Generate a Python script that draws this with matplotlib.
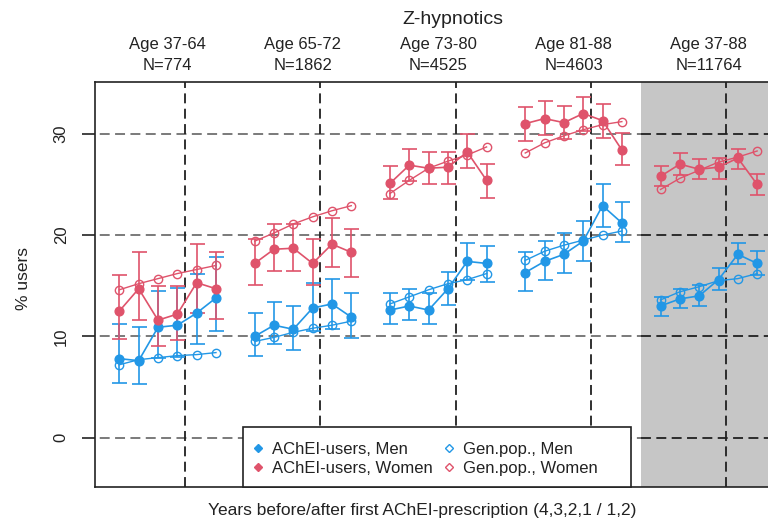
import matplotlib
matplotlib.use("Agg")
import matplotlib.pyplot as plt
from matplotlib.lines import Line2D
from matplotlib.patches import Rectangle
import numpy as np

plt.rcParams['font.family'] = ['Liberation Sans', 'DejaVu Sans']

# ---------------- data ----------------
title = "Z-hypnotics"
panel_ages = ["Age 37-64", "Age 65-72", "Age 73-80", "Age 81-88", "Age 37-88"]
panel_ns = ["N=774", "N=1862", "N=4525", "N=4603", "N=11764"]
xlabel = "Years before/after first AChEI-prescription (4,3,2,1 / 1,2)"
ylabel = "% users"
yticks = [0, 10, 20, 30]

men_users = [[7.8, 7.6, 10.9, 11.1, 12.3, 13.8],
             [10.0, 11.1, 10.7, 12.8, 13.2, 11.9],
             [12.6, 13.0, 12.6, 14.7, 17.4, 17.2],
             [16.3, 17.4, 18.1, 19.4, 22.9, 21.2],
             [13.0, 13.7, 14.0, 15.6, 18.1, 17.2]]
men_lo = [[5.4, 5.3, 7.9, 8.0, 9.2, 10.5],
          [8.1, 9.2, 8.7, 10.5, 10.7, 9.8],
          [11.2, 11.6, 11.2, 13.1, 15.6, 15.4],
          [14.5, 15.6, 16.3, 17.4, 20.8, 19.3],
          [12.0, 12.8, 13.0, 14.6, 17.1, 16.1]]
men_hi = [[11.2, 10.9, 14.5, 14.8, 16.2, 17.8],
          [12.3, 13.4, 13.0, 15.3, 15.7, 14.3],
          [14.3, 14.7, 14.3, 16.4, 19.2, 18.9],
          [18.3, 19.4, 20.2, 21.4, 25.0, 23.3],
          [13.9, 14.7, 15.1, 16.7, 19.2, 18.4]]
men_pop = [[7.2, 7.7, 7.9, 8.1, 8.2, 8.4],
           [9.5, 9.9, 10.4, 10.8, 11.1, 11.5],
           [13.2, 13.9, 14.6, 15.2, 15.6, 16.2],
           [17.5, 18.4, 19.0, 19.5, 20.0, 20.4],
           [13.6, 14.4, 14.9, 15.5, 15.7, 16.2]]
women_users = [[12.5, 14.7, 11.6, 12.2, 15.3, 14.7],
               [17.2, 18.6, 18.7, 17.2, 19.1, 18.3],
               [25.1, 26.9, 26.6, 26.7, 28.2, 25.4],
               [31.0, 31.5, 31.1, 32.0, 31.3, 28.4],
               [25.8, 27.0, 26.5, 26.7, 27.6, 25.0]]
women_lo = [[9.7, 11.6, 9.0, 9.6, 12.3, 11.7],
            [15.1, 16.5, 16.5, 15.1, 16.8, 15.9],
            [23.6, 25.3, 25.0, 25.0, 26.6, 23.7],
            [29.3, 29.9, 29.5, 30.3, 29.6, 26.9],
            [24.8, 25.9, 25.5, 25.5, 26.5, 24.0]]
women_hi = [[16.1, 18.3, 15.0, 15.0, 19.1, 18.3],
            [19.6, 21.1, 21.1, 19.6, 21.7, 20.6],
            [26.8, 28.5, 28.2, 28.2, 30.0, 27.0],
            [32.6, 33.2, 32.7, 33.6, 32.9, 30.1],
            [26.8, 28.1, 27.5, 27.6, 28.5, 26.0]]
women_pop = [[14.6, 15.2, 15.7, 16.2, 16.6, 17.0],
             [19.4, 20.2, 21.1, 21.8, 22.4, 22.9],
             [24.1, 25.4, 26.6, 27.3, 27.9, 28.7],
             [28.1, 29.1, 29.8, 30.4, 30.9, 31.2],
             [24.5, 25.6, 26.4, 27.2, 27.7, 28.3]]

legend_labels = ["AChEI-users, Men", "AChEI-users, Women", "Gen.pop., Men", "Gen.pop., Women"]

BLUE = "#2297E6"
RED = "#DF536B"
INK = "#222222"

# ---------------- figure ----------------
W, H = 768, 525
fig = plt.figure(figsize=(W / 100, H / 100), dpi=100)
ax_l, ax_r, ax_t, ax_b = 95, 779, 82, 487
ax = fig.add_axes([ax_l / W, (H - ax_b) / H, (ax_r - ax_l) / W, (ax_b - ax_t) / H])

def ax_x(px):
    return (px - ax_l) / (ax_r - ax_l)

def ax_y(py):
    return (ax_b - py) / (ax_b - ax_t)

xs0 = np.arange(6)
PSTEP = 7
ax.set_xlim(-1.26, 34.13)
ax.set_ylim(-4.87, 35.11)

# shaded overall panel
ax.add_patch(Rectangle((4 * PSTEP - 1, -10), 20, 60, facecolor="#C6C6C6", edgecolor="none", zorder=0))

dash = (0, (5.5, 3.0))
for yv in yticks:
    ax.plot([-5, 4 * PSTEP - 1], [yv, yv], color="#707070", lw=1.3, linestyle=dash, zorder=1)
    ax.plot([4 * PSTEP - 1, 40], [yv, yv], color="#202020", lw=1.3, linestyle=dash, zorder=1)
for p in range(5):
    ax.axvline(PSTEP * p + 3.4, color="#202020", lw=1.3, linestyle=dash, zorder=1)

for p in range(5):
    xs = xs0 + PSTEP * p
    # general population (open)
    ax.plot(xs, men_pop[p], color=BLUE, lw=1.0, marker='o', mfc='none', mec=BLUE, ms=6.0, mew=1.0, zorder=3)
    ax.plot(xs, women_pop[p], color=RED, lw=1.0, marker='o', mfc='none', mec=RED, ms=6.0, mew=1.0, zorder=3)
    # users (filled, with CI)
    for vals, lo, hi, c in [(men_users[p], men_lo[p], men_hi[p], BLUE),
                            (women_users[p], women_lo[p], women_hi[p], RED)]:
        v = np.array(vals)
        yerr = [v - np.array(lo), np.array(hi) - v]
        ax.errorbar(xs, v, yerr=yerr, color=c, lw=1.2, marker='o', ms=6.3, mfc=c, mec=c,
                    capsize=5.4, capthick=1.2, elinewidth=1.2, zorder=4)

# axes styling
for s in ax.spines.values():
    s.set_linewidth(1.2)
    s.set_color(INK)
ax.set_xticks([])
ax.set_yticks(yticks)
ax.set_yticklabels([str(t) for t in yticks], rotation=90, va='center', fontsize=12, color=INK)
ax.tick_params(axis='y', length=9.4, width=1.2, pad=9.5, color=INK)

# legend: custom frame + frameless legend
ax.add_patch(Rectangle((ax_x(243), 0.0), ax_x(631) - ax_x(243), ax_y(427), transform=ax.transAxes,
                       facecolor='white', edgecolor=INK, lw=1.2, zorder=9, clip_on=False))
handles = [Line2D([], [], linestyle='none', marker='D', color=BLUE, mfc=BLUE, ms=4.3),
           Line2D([], [], linestyle='none', marker='D', color=RED, mfc=RED, ms=4.3),
           Line2D([], [], linestyle='none', marker='D', color=BLUE, mfc='none', ms=4.3, mew=1.0),
           Line2D([], [], linestyle='none', marker='D', color=RED, mfc='none', ms=4.3, mew=1.0)]
leg = ax.legend(handles, legend_labels, ncol=2, loc='upper left',
                bbox_to_anchor=(ax_x(253), ax_y(442)),
                frameon=False, borderaxespad=0.0, borderpad=0.0, fontsize=12,
                handlelength=0.6, handletextpad=0.55, columnspacing=0.65,
                labelspacing=0.22)
for t in leg.get_texts():
    t.set_color(INK)
leg.set_zorder(10)

# texts
fig.text(453 / W, 1 - 19 / H, title, ha='center', va='center', fontsize=14, color=INK)
for p in range(5):
    xpx = ax.transData.transform((PSTEP * p + 2.5, 0))[0]
    fig.text(xpx / W, 1 - 45 / H, panel_ages[p], ha='center', va='center', fontsize=12, color=INK)
    fig.text(xpx / W, 1 - 66 / H, panel_ns[p], ha='center', va='center', fontsize=12, color=INK)
fig.text(23 / W, 1 - 279 / H, ylabel, rotation=90, ha='center', va='center', fontsize=12.5, color=INK)
fig.text(422 / W, 1 - 510 / H, xlabel, ha='center', va='center', fontsize=12.5, color=INK)

fig.savefig("out.png", dpi=100)
